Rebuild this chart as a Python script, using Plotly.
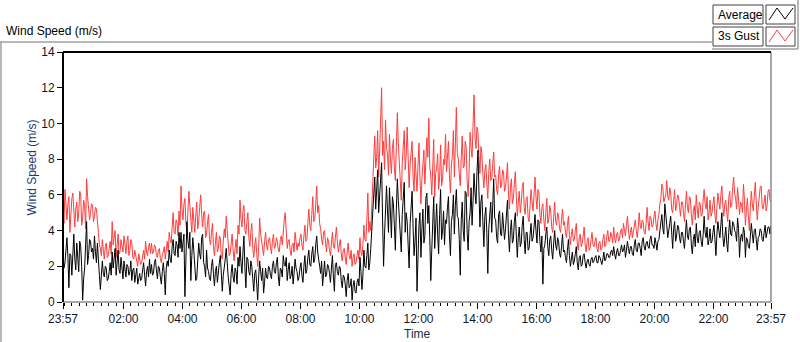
import plotly.graph_objects as go
import pandas as pd

# ---------------- data (2-minute samples) ----------------
start_time = "2024-01-01 23:57"
step = "2min"

gust = [
    5.3, 4.4, 6.3, 5.1, 4.6, 5.5, 5.9, 3.9, 4.9, 5.8, 6.1, 4.8, 4.2, 5.2, 5.6, 4.5, 5.0, 6.2, 6.0, 4.3, 4.7, 5.7, 5.4, 4.1, 6.9, 5.9, 5.2, 4.6, 5.0, 5.5,  # 23:57
    5.4, 4.5, 4.8, 5.3, 5.2, 4.2, 3.9, 3.2, 3.0, 2.6, 3.5, 2.9, 2.4, 3.1, 3.3, 2.5, 2.6, 3.0, 3.4, 2.7, 4.5, 3.2, 3.6, 4.0, 2.5, 3.1, 3.8, 2.7, 2.8, 3.5,  # 00:57
    3.2, 2.8, 3.7, 3.0, 2.7, 3.4, 3.7, 2.6, 2.9, 3.5, 3.3, 2.5, 2.4, 2.9, 2.6, 2.2, 2.0, 2.7, 2.4, 2.1, 2.2, 2.6, 2.9, 2.4, 3.4, 2.8, 2.6, 3.1, 3.3, 2.7,  # 01:57
    3.3, 2.7, 2.8, 3.2, 3.1, 2.6, 2.5, 2.9, 3.0, 2.4, 2.2, 2.7, 2.8, 3.1, 2.4, 2.9, 3.4, 2.8, 3.9, 3.5, 3.3, 4.2, 5.0, 3.9, 3.8, 4.6, 4.4, 3.7, 5.1, 4.3,  # 02:57
    6.5, 5.2, 4.6, 5.5, 5.8, 4.4, 4.0, 5.0, 6.2, 5.4, 4.8, 3.9, 5.3, 4.6, 3.9, 4.8, 5.6, 4.1, 4.5, 5.3, 6.0, 4.9, 4.2, 5.0, 5.1, 3.6, 3.8, 4.5, 4.9, 3.5,  # 03:57
    3.2, 3.9, 4.4, 3.1, 2.6, 3.3, 3.9, 2.8, 3.0, 3.7, 3.6, 2.5, 2.4, 3.4, 4.1, 3.6, 4.8, 4.0, 3.2, 2.6, 2.7, 3.3, 3.8, 2.9, 2.3, 3.0, 3.5, 2.7, 4.3, 3.8,  # 04:57
    5.7, 4.6, 4.2, 5.1, 5.4, 4.0, 3.8, 4.5, 5.0, 3.6, 3.1, 3.9, 4.4, 3.0, 2.5, 3.2, 3.6, 2.7, 2.0, 3.1, 4.7, 3.8, 3.3, 2.8, 2.6, 3.4, 3.9, 3.2, 2.9, 3.5,  # 05:57
    3.6, 3.1, 2.7, 3.4, 3.8, 3.0, 3.1, 3.6, 3.4, 2.9, 2.8, 3.5, 3.7, 3.2, 4.1, 4.6, 5.0, 3.7, 3.0, 3.4, 3.5, 2.9, 2.6, 3.2, 3.3, 2.8, 3.9, 3.4, 2.9, 3.3,  # 06:57
    3.1, 3.6, 3.8, 3.2, 2.9, 3.7, 4.3, 3.4, 3.5, 4.4, 5.2, 4.3, 4.0, 4.9, 5.9, 4.5, 4.6, 5.5, 6.5, 5.0, 5.4, 4.4, 4.1, 3.5, 3.2, 3.9, 4.0, 3.3, 2.8, 3.6,  # 07:57
    3.4, 2.9, 2.6, 3.3, 3.9, 3.1, 3.0, 3.6, 4.2, 3.4, 2.8, 3.2, 3.5, 2.7, 2.3, 2.9, 3.0, 2.5, 2.1, 2.8, 3.3, 2.6, 2.4, 2.9, 2.0, 2.5, 2.7, 2.1, 2.2, 2.6,  # 08:57
    2.9, 2.4, 3.6, 2.8, 2.6, 3.2, 4.3, 3.5, 3.4, 4.6, 6.1, 3.9, 4.5, 4.0, 5.3, 7.2, 8.7, 9.3, 7.5, 8.1, 9.6, 7.0, 8.4, 10.0, 12.0, 8.2, 9.0, 7.4, 10.2, 8.6,  # 09:57
    8.3, 7.1, 9.4, 8.0, 7.2, 8.6, 9.1, 7.5, 6.8, 8.7, 10.6, 8.9, 7.6, 6.5, 5.7, 7.8, 8.9, 9.6, 7.4, 8.2, 9.8, 7.3, 6.4, 7.7, 8.3, 9.0, 7.0, 6.2, 8.1, 7.4,  # 10:57
    6.2, 7.6, 8.9, 7.0, 5.5, 6.9, 7.8, 8.5, 6.6, 7.9, 9.2, 8.1, 10.3, 7.6, 7.1, 6.0, 8.4, 9.1, 5.9, 7.2, 7.5, 8.3, 6.3, 7.0, 8.8, 6.5, 6.9, 8.0, 7.7, 9.4,  # 11:57
    7.3, 8.4, 9.0, 7.1, 6.1, 7.7, 8.2, 9.6, 7.0, 8.8, 10.9, 8.3, 8.0, 7.2, 6.5, 8.1, 9.3, 7.5, 7.6, 9.0, 8.7, 6.8, 5.9, 7.4, 9.5, 8.6, 8.1, 9.9, 11.6, 9.2,  # 12:57
    8.6, 9.8, 9.5, 8.2, 7.2, 8.7, 8.3, 7.1, 6.4, 7.4, 7.7, 6.6, 5.8, 7.3, 8.0, 6.8, 6.9, 7.7, 8.4, 7.0, 7.1, 6.3, 6.0, 7.2, 7.6, 6.4, 6.5, 7.4, 7.3, 6.2,  # 13:57
    6.4, 7.0, 7.8, 6.1, 5.2, 6.4, 6.9, 5.5, 5.8, 6.6, 7.3, 5.9, 4.8, 5.6, 6.2, 5.0, 5.5, 6.4, 6.7, 5.3, 4.9, 5.8, 5.9, 4.7, 4.5, 5.4, 6.3, 5.6, 5.1, 6.0,  # 14:57
    7.0, 5.9, 5.2, 6.3, 6.1, 4.9, 4.4, 5.3, 5.5, 4.6, 4.0, 5.0, 5.8, 4.4, 4.6, 5.4, 5.1, 4.2, 3.9, 4.7, 5.6, 4.5, 4.3, 5.0, 4.8, 4.1, 3.9, 4.6, 5.2, 4.3,  # 15:57
    4.5, 3.9, 3.6, 4.3, 4.8, 3.7, 3.2, 3.8, 4.1, 3.4, 3.5, 4.0, 4.4, 3.3, 2.9, 3.6, 3.8, 3.1, 3.3, 3.7, 4.2, 3.2, 2.8, 3.4, 3.6, 2.9, 3.0, 3.5, 3.9, 3.2,  # 16:57
    3.1, 3.4, 3.6, 3.0, 2.8, 3.3, 3.4, 2.9, 3.0, 3.5, 3.8, 3.1, 3.2, 3.7, 4.0, 3.4, 3.4, 3.9, 3.7, 3.3, 4.2, 3.6, 3.3, 3.8, 3.9, 3.4, 3.5, 4.0, 4.1, 3.6,  # 17:57
    4.4, 4.0, 3.7, 4.3, 4.8, 4.1, 3.5, 3.9, 4.2, 3.6, 3.9, 4.4, 4.6, 4.0, 3.6, 4.2, 5.0, 4.3, 4.1, 4.6, 4.5, 3.9, 3.8, 4.4, 5.3, 4.5, 4.0, 4.8, 4.7, 4.2,  # 18:57
    4.3, 4.8, 5.1, 4.4, 4.0, 4.6, 4.9, 5.5, 5.8, 6.6, 6.4, 5.6, 5.9, 6.0, 6.8, 5.9, 5.7, 6.4, 6.1, 5.2, 5.0, 5.7, 6.3, 5.1, 5.4, 6.0, 5.9, 5.3, 4.8, 5.6,  # 19:57
    5.6, 5.0, 4.5, 5.4, 6.2, 5.3, 5.0, 5.9, 5.8, 4.9, 4.3, 5.1, 5.4, 4.6, 6.0, 5.2, 4.7, 5.6, 5.5, 4.8, 4.9, 5.7, 6.3, 5.5, 5.2, 5.9, 4.6, 5.0, 5.7, 4.8,  # 20:57
    5.0, 5.5, 5.9, 4.9, 4.4, 5.3, 6.1, 5.6, 5.2, 6.0, 6.5, 5.4, 4.8, 5.5, 5.7, 5.0, 4.5, 5.8, 6.2, 5.3, 5.4, 6.4, 7.0, 6.1, 5.8, 5.2, 6.4, 5.7, 4.9, 5.6,  # 21:57
    5.5, 5.0, 6.6, 5.7, 4.3, 5.2, 5.8, 4.8, 4.0, 5.3, 6.2, 5.5, 5.1, 5.9, 6.7, 5.6, 4.6, 5.3, 5.9, 6.4, 6.5, 5.4, 5.2, 5.8, 6.0, 5.1, 5.4, 6.2, 6.3, 5.7,  # 22:57
    5.6,                                                                                                                                                   # 23:57
]

average = [
    2.9, 1.9, 2.2, 3.1, 3.6, 2.5, 0.8, 2.7, 2.6, 1.5, 3.0, 3.8, 2.4, 1.8, 3.3, 2.6, 1.7, 3.4, 3.1, 2.0, 0.1, 1.3, 1.9, 3.2, 4.5, 2.1, 2.6, 3.5, 3.4, 2.8,  # 23:57
    3.0, 2.4, 3.7, 2.8, 2.2, 3.3, 1.9, 1.5, 0.7, 1.8, 2.3, 1.6, 1.4, 2.0, 1.9, 1.2, 1.3, 1.7, 2.2, 1.5, 2.8, 1.9, 2.4, 3.0, 1.5, 2.3, 2.9, 1.8, 1.6, 2.5,  # 00:57
    1.8, 1.3, 2.3, 1.9, 1.4, 2.1, 2.0, 1.5, 1.7, 2.3, 1.2, 1.8, 1.9, 1.1, 1.5, 1.9, 1.0, 1.4, 1.6, 1.2, 1.3, 1.8, 2.2, 1.5, 0.9, 1.7, 2.0, 1.4, 2.4, 1.6,  # 01:57
    2.1, 1.5, 1.6, 2.2, 2.4, 1.8, 1.3, 2.0, 1.9, 1.4, 1.0, 1.7, 2.2, 1.6, 0.4, 1.9, 2.3, 2.0, 2.9, 2.4, 2.2, 3.1, 3.5, 2.7, 2.6, 3.4, 3.2, 2.5, 3.9, 3.0,  # 02:57
    3.9, 2.8, 3.2, 3.8, 0.3, 2.5, 4.5, 3.4, 3.0, 3.9, 1.2, 2.6, 3.6, 2.9, 1.8, 1.2, 1.3, 2.3, 3.3, 2.7, 2.4, 3.6, 3.8, 2.2, 2.0, 1.4, 2.9, 1.9, 1.7, 1.3,  # 03:57
    1.2, 2.0, 2.4, 1.6, 0.9, 1.7, 2.0, 1.1, 1.5, 2.2, 2.6, 1.3, 0.6, 1.5, 1.9, 2.4, 3.0, 1.8, 1.4, 0.9, 0.4, 1.6, 2.1, 1.4, 1.1, 1.9, 1.7, 1.0, 2.5, 2.0,  # 04:57
    3.1, 2.2, 1.6, 2.8, 3.7, 1.9, 0.8, 2.5, 2.4, 1.7, 1.5, 2.3, 2.0, 1.3, 0.6, 1.6, 1.8, 1.0, 0.1, 1.4, 2.3, 1.7, 1.2, 1.9, 0.5, 1.1, 1.9, 1.4, 1.3, 2.0,  # 05:57
    1.9, 1.5, 1.3, 2.0, 2.3, 1.7, 1.6, 2.2, 2.5, 1.4, 0.9, 1.9, 1.8, 1.4, 2.6, 2.1, 2.0, 2.5, 1.2, 1.8, 2.2, 1.3, 1.5, 2.0, 1.0, 1.6, 2.4, 1.9, 1.7, 1.2,  # 06:57
    1.4, 1.9, 2.2, 1.5, 1.1, 2.0, 2.6, 1.6, 1.8, 2.5, 2.9, 2.1, 2.0, 2.7, 3.1, 2.2, 2.4, 3.2, 3.7, 2.8, 2.5, 2.0, 1.6, 2.3, 0.9, 1.8, 2.3, 1.4, 1.5, 2.1,  # 07:57
    2.0, 1.6, 1.1, 1.9, 2.6, 1.4, 0.6, 2.1, 2.2, 1.7, 1.5, 2.0, 1.9, 1.2, 0.8, 1.5, 1.4, 1.0, 0.3, 1.2, 1.6, 0.8, 0.9, 1.3, 0.1, 0.9, 1.2, 0.6, 0.5, 1.1,  # 08:57
    1.3, 0.9, 2.5, 1.7, 0.7, 1.5, 2.9, 2.0, 1.9, 2.6, 3.3, 1.8, 2.2, 3.0, 4.2, 5.4, 6.6, 7.0, 5.2, 6.1, 7.4, 5.0, 6.0, 7.5, 7.8, 4.6, 2.0, 3.8, 5.8, 6.5,  # 09:57
    5.1, 3.9, 6.4, 4.8, 3.6, 5.9, 5.5, 4.3, 2.9, 5.2, 6.9, 5.7, 4.6, 3.4, 2.8, 4.9, 5.6, 6.7, 3.9, 5.0, 4.5, 3.1, 1.9, 4.4, 5.8, 6.2, 4.2, 2.6, 3.4, 4.7,  # 10:57
    0.6, 3.2, 4.3, 5.0, 2.5, 4.1, 5.2, 3.3, 3.7, 5.8, 6.1, 4.4, 5.4, 3.6, 1.2, 2.9, 4.6, 5.9, 3.0, 4.3, 5.5, 3.8, 2.7, 4.9, 6.3, 3.5, 4.0, 5.1, 3.2, 4.6,  # 11:57
    4.4, 5.3, 5.9, 3.7, 2.6, 4.5, 4.9, 6.0, 3.8, 5.4, 6.3, 4.8, 4.7, 3.5, 1.5, 4.6, 5.6, 4.0, 3.4, 6.2, 6.1, 3.9, 2.9, 4.5, 5.0, 6.4, 4.3, 5.7, 7.2, 6.1,  # 12:57
    5.5, 7.3, 8.5, 6.2, 4.2, 5.6, 6.0, 4.5, 3.1, 4.8, 5.3, 3.9, 1.6, 4.1, 4.8, 5.6, 3.9, 5.2, 6.9, 4.7, 4.6, 3.6, 3.3, 4.9, 5.1, 3.8, 3.7, 5.0, 4.4, 3.5,  # 13:57
    4.1, 4.9, 5.7, 3.8, 2.8, 4.0, 4.6, 3.3, 3.5, 4.5, 5.0, 3.7, 2.5, 3.6, 4.2, 3.1, 3.3, 4.3, 4.8, 3.5, 2.7, 3.9, 3.9, 2.9, 3.0, 3.8, 4.4, 3.4, 3.6, 4.2,  # 14:57
    4.9, 4.0, 3.3, 4.6, 4.5, 3.4, 2.8, 3.7, 1.0, 3.0, 3.2, 3.8, 4.2, 3.1, 2.6, 3.5, 3.7, 2.9, 2.4, 3.3, 4.0, 3.2, 2.9, 3.6, 3.4, 2.7, 2.5, 3.1, 3.8, 2.8,  # 15:57
    2.9, 2.5, 2.2, 2.9, 3.5, 2.6, 2.0, 2.4, 2.8, 2.1, 2.3, 2.7, 3.1, 2.2, 1.8, 2.5, 2.6, 2.0, 2.1, 2.6, 2.7, 2.2, 1.9, 2.3, 2.4, 2.1, 2.0, 2.4, 2.5, 2.2,  # 16:57
    2.3, 2.5, 2.6, 2.2, 2.2, 2.6, 2.5, 2.3, 2.1, 2.4, 2.8, 2.3, 2.4, 2.7, 2.7, 2.5, 2.5, 2.8, 2.9, 2.6, 3.1, 2.7, 2.4, 2.8, 3.0, 2.6, 2.6, 2.9, 3.2, 2.8,  # 17:57
    2.9, 3.2, 2.5, 2.9, 3.4, 3.0, 2.7, 3.1, 3.1, 2.7, 2.6, 3.2, 3.5, 2.9, 2.8, 3.3, 3.3, 3.0, 2.6, 3.4, 3.6, 3.1, 2.9, 3.3, 3.4, 3.1, 3.0, 3.5, 3.7, 3.2,  # 18:57
    3.2, 3.0, 3.6, 3.3, 2.9, 3.4, 3.5, 4.0, 4.7, 4.9, 4.1, 3.8, 5.5, 4.6, 4.3, 3.6, 3.9, 4.4, 4.8, 3.5, 3.0, 4.1, 4.5, 3.4, 3.7, 4.3, 4.2, 3.6, 3.3, 3.9,  # 19:57
    3.9, 3.4, 3.0, 3.8, 4.6, 3.7, 3.5, 4.1, 4.2, 3.2, 2.7, 3.5, 3.8, 3.1, 4.4, 3.6, 3.3, 3.9, 4.0, 3.4, 3.1, 3.8, 4.8, 3.9, 3.6, 4.2, 3.2, 3.5, 4.1, 3.3,  # 20:57
    3.4, 3.9, 4.3, 3.5, 2.6, 3.8, 4.5, 4.0, 3.6, 4.3, 5.0, 3.7, 3.1, 3.6, 4.2, 3.3, 2.8, 3.9, 4.6, 3.8, 3.7, 4.5, 4.4, 4.0, 3.9, 3.4, 4.7, 4.1, 2.5, 3.6,  # 21:57
    3.8, 3.4, 4.2, 3.9, 2.5, 3.6, 3.5, 3.1, 3.0, 3.7, 4.4, 3.8, 3.3, 4.0, 4.1, 3.5, 2.9, 3.6, 3.7, 4.1, 4.0, 3.5, 3.4, 3.9, 4.3, 3.6, 3.9, 4.2, 4.2, 3.8,  # 22:57
    4.3,                                                                                                                                                   # 23:57
]

tick_times = ["2024-01-01 23:57", "2024-01-02 02:00", "2024-01-02 04:00", "2024-01-02 06:00",
              "2024-01-02 08:00", "2024-01-02 10:00", "2024-01-02 12:00", "2024-01-02 14:00",
              "2024-01-02 16:00", "2024-01-02 18:00", "2024-01-02 20:00", "2024-01-02 22:00",
              "2024-01-02 23:57"]
tick_labels = ["23:57", "02:00", "04:00", "06:00", "08:00", "10:00", "12:00", "14:00",
               "16:00", "18:00", "20:00", "22:00", "23:57"]
y_ticks = [0, 2, 4, 6, 8, 10, 12, 14]

times = pd.date_range(start_time, periods=len(gust), freq=step)

# ---------------- geometry helpers (pixel -> paper) ----------------
W, H = 800, 342
L, R, T, B = 63, 771, 52, 302


def px(x):
    return (x - L) / (R - L)


def py(y):
    return (B - y) / (B - T)


FONT = "Liberation Sans, Arial, sans-serif"

fig = go.Figure()
fig.add_trace(go.Scatter(x=times, y=gust, mode="lines", name="3s Gust",
                         line=dict(color="#ff3c3c", width=1)))
fig.add_trace(go.Scatter(x=times, y=average, mode="lines", name="Average",
                         line=dict(color="#000000", width=1)))

shapes = []
# plot frame: light bottom/right, dark top/left
shapes.append(dict(type="line", xref="paper", yref="paper", x0=1, x1=1, y0=0, y1=1,
                   line=dict(color="#8c8c8c", width=1.5)))
shapes.append(dict(type="line", xref="paper", yref="paper", x0=0, x1=1, y0=0, y1=0,
                   line=dict(color="#8c8c8c", width=1.5)))
shapes.append(dict(type="line", xref="paper", yref="paper", x0=0, x1=1, y0=1, y1=1,
                   line=dict(color="#000000", width=2)))
shapes.append(dict(type="line", xref="paper", yref="paper", x0=0, x1=0, y0=0, y1=1,
                   line=dict(color="#000000", width=2)))
# outer panel lines
for (x0, y0, x1, y1) in [(0, 42, 712, 42), (1, 42, 1, 342), (712, 49, 798, 49), (798, 0, 798, 49)]:
    shapes.append(dict(type="line", xref="paper", yref="paper", x0=px(x0), x1=px(x1),
                       y0=py(y0), y1=py(y1), line=dict(color="#a0a0a0", width=1.5)))
# legend boxes
for (y0, y1, col) in [(5, 24, "#000000"), (27, 46, "#ff3c3c")]:
    shapes.append(dict(type="rect", xref="paper", yref="paper", x0=px(713), x1=px(763),
                       y0=py(y1), y1=py(y0), line=dict(color="#404040", width=1), fillcolor="white"))
    shapes.append(dict(type="rect", xref="paper", yref="paper", x0=px(766), x1=px(795),
                       y0=py(y1), y1=py(y0), line=dict(color="#404040", width=1), fillcolor="white"))
    pts = [(769, y1 - 4), (777, y0 + 3), (785, y1 - 5), (793, y0 + 3)]
    path = "M " + " L ".join(f"{px(a)},{py(b)}" for a, b in pts)
    shapes.append(dict(type="path", xref="paper", yref="paper", path=path,
                       line=dict(color=col, width=1)))

annotations = [
    dict(text="Wind Speed (m/s)", x=px(4), y=py(31), xref="paper", yref="paper",
         xanchor="left", yanchor="middle", showarrow=False,
         font=dict(family=FONT, size=12, color="#000000")),
    dict(text="Average", x=px(716), y=py(14.5), xref="paper", yref="paper",
         xanchor="left", yanchor="middle", showarrow=False,
         font=dict(family=FONT, size=12, color="#000000")),
    dict(text="3s Gust", x=px(716), y=py(36.5), xref="paper", yref="paper",
         xanchor="left", yanchor="middle", showarrow=False,
         font=dict(family=FONT, size=12, color="#000000")),
    dict(text="Wind Speed (m/s)", x=px(31.5), y=py(168), xref="paper", yref="paper",
         xanchor="center", yanchor="middle", textangle=-90, showarrow=False,
         font=dict(family=FONT, size=12, color="#1e3a6e")),
    dict(text="Time", x=px(417), y=py(334), xref="paper", yref="paper",
         xanchor="center", yanchor="middle", showarrow=False,
         font=dict(family=FONT, size=12, color="#1e2a44")),
]

fig.update_layout(
    width=W, height=H,
    margin=dict(l=L, r=W - R, t=T, b=H - B, pad=0),
    paper_bgcolor="white", plot_bgcolor="white",
    showlegend=False,
    shapes=shapes,
    annotations=annotations,
    xaxis=dict(
        type="date",
        range=[tick_times[0], tick_times[-1]],
        tickmode="array", tickvals=tick_times, ticktext=tick_labels,
        ticks="outside", ticklen=6, tickwidth=1, tickcolor="#000000",
        showgrid=False, zeroline=False, showline=False,
        tickfont=dict(family=FONT, size=12, color="#101828"),
        minor=dict(ticks="outside", ticklen=3, tickwidth=1, tickcolor="#000000",
                   tick0="2024-01-02 00:00", dtick=900000, showgrid=False),
    ),
    yaxis=dict(
        range=[0, 14],
        tickmode="array", tickvals=y_ticks,
        ticks="outside", ticklen=5, tickwidth=1, tickcolor="#000000",
        showgrid=False, zeroline=False, showline=False,
        tickfont=dict(family=FONT, size=12, color="#101828"),
    ),
)

fig.write_html("out.html", config={"displayModeBar": False})

# remove the browser's default page margin so the figure sits at (0, 0)
with open("out.html", "r", encoding="utf-8") as f:
    html = f.read()
html = html.replace("<head>", "<head><style>html,body{margin:0;padding:0;overflow:hidden;}</style>", 1)
with open("out.html", "w", encoding="utf-8") as f:
    f.write(html)
